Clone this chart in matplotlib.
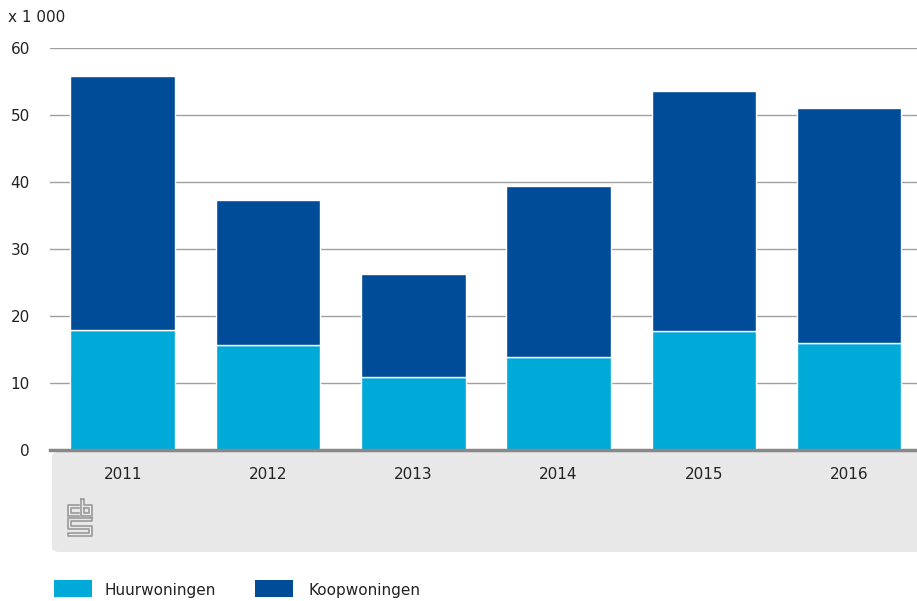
import matplotlib
matplotlib.use("Agg")
import matplotlib.pyplot as plt
from matplotlib.patches import FancyBboxPatch, Rectangle
from matplotlib.lines import Line2D
import numpy as np

years = ["2011", "2012", "2013", "2014", "2015", "2016"]
huur = [17.9, 15.7, 10.9, 13.9, 17.8, 16.0]
koop_total = [55.8, 37.3, 26.3, 39.4, 53.6, 51.0]
koop = [t - h for t, h in zip(koop_total, huur)]
yticks = [0, 10, 20, 30, 40, 50, 60]

c_huur = "#00AAD8"
c_koop = "#004C99"

W, H = 917, 601
plt.rcParams['font.family'] = ['DejaVu Sans']
fig = plt.figure(figsize=(W / 100, H / 100), dpi=100)

def fx(px):
    return px / W

def fy(py):
    return 1 - py / H

FS = 11

# gray bottom panel
panel = FancyBboxPatch((fx(52), fy(552)), fx(917 + 20) - fx(52), fy(452) - fy(552),
                       boxstyle="round,pad=0,rounding_size=0.008",
                       transform=fig.transFigure, facecolor="#E8E8E8",
                       edgecolor="none", zorder=0)
fig.patches.append(panel)

ax = fig.add_axes([fx(50), fy(450), fx(917) - fx(50), fy(48) - fy(450)])
ax.set_zorder(2)
x = np.arange(len(years))
ax.bar(x, huur, width=0.72, color=c_huur, edgecolor="white", linewidth=1, zorder=3)
ax.bar(x, koop, bottom=huur, width=0.72, color=c_koop, edgecolor="white", linewidth=1, zorder=3)

ax.set_ylim(0, 60)
ax.set_xlim(-0.5, -0.5 + 867 / 145.3)
ax.set_yticks(yticks)
ax.set_yticklabels([str(v) for v in yticks], fontsize=FS, color="#222222")
ax.tick_params(axis="y", length=0, pad=14.5)
ax.set_xticks(x)
ax.set_xticklabels(years, fontsize=FS, color="#222222")
ax.tick_params(axis="x", length=0, pad=12)
for s in ["top", "right", "left"]:
    ax.spines[s].set_visible(False)
ax.spines["bottom"].set_color("#888888")
ax.spines["bottom"].set_linewidth(2.5)
ax.spines["bottom"].set_zorder(5)
ax.set_axisbelow(True)
ax.yaxis.grid(True, color="#A0A0A0", linewidth=1)
ax.set_facecolor("none")

fig.text(fx(8), fy(18), "x 1 000", fontsize=FS, color="#222222", va="center", ha="left")

# CBS logo (simplified outline)
lc = "#9A9A9A"
def poly(pts, lw=1.2):
    xs = [fx(p[0]) for p in pts]
    ys = [fy(p[1]) for p in pts]
    fig.lines.append(Line2D(xs, ys, transform=fig.transFigure, color=lc, linewidth=lw, zorder=3))

# 'c'
poly([(79, 505), (68, 505), (68, 516), (79, 516)])
poly([(79, 508), (71, 508), (71, 513), (79, 513)])
# 'b'
poly([(81, 499), (81, 516), (92, 516), (92, 505), (84, 505), (84, 499), (81, 499)])
poly([(84, 508), (89, 508), (89, 513), (84, 513), (84, 508)])
# 'S'
poly([(92, 518), (68, 518), (68, 529), (89, 529), (89, 533), (68, 533), (68, 536), (92, 536), (92, 526), (71, 526), (71, 521), (92, 521), (92, 518)])

# legend
fig.patches.append(Rectangle((fx(54), fy(597)), fx(92) - fx(54), fy(580) - fy(597),
                             transform=fig.transFigure, facecolor=c_huur, edgecolor="none"))
fig.text(fx(104), fy(590), "Huurwoningen", fontsize=FS, color="#222222", va="center", ha="left")
fig.patches.append(Rectangle((fx(255), fy(597)), fx(293) - fx(255), fy(580) - fy(597),
                             transform=fig.transFigure, facecolor=c_koop, edgecolor="none"))
fig.text(fx(308), fy(590), "Koopwoningen", fontsize=FS, color="#222222", va="center", ha="left")

fig.savefig("out.png", dpi=100)
